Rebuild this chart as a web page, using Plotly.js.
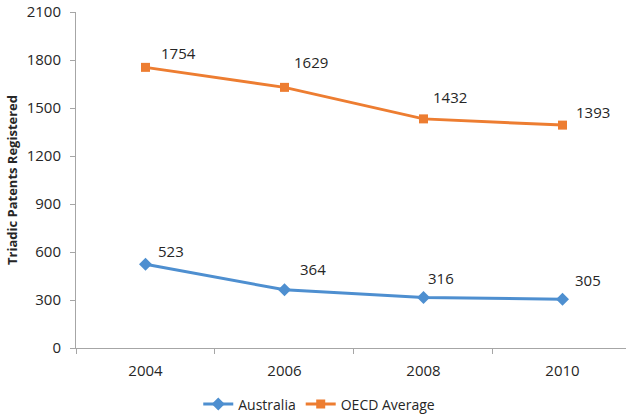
<!DOCTYPE html>
<html>
<head>
<meta charset="utf-8">
<script src="https://cdn.plot.ly/plotly-3.0.1.min.js"></script>
<style>
  html, body { margin: 0; padding: 0; background: #ffffff; }
  #chart { width: 626px; height: 417px; }
</style>
</head>
<body>
<div id="chart"></div>
<script>
// Triadic patent families registered, Australia vs OECD average
const years = ['2004', '2006', '2008', '2010'];
const australia = [523, 364, 316, 305];
const oecdAverage = [1754, 1629, 1432, 1393];
const yTicks = [0, 300, 600, 900, 1200, 1500, 1800, 2100];

const blue = '#4E8FD0';
const orange = '#ED7D31';
const textColor = '#262626';
const axisColor = '#A6A6A6';
const fontFamily = '"Open Sans", "Liberation Sans", sans-serif';

// label offsets (px) from each marker, up-and-right
const oecdShift = [[33, 14], [27, 25], [27, 22], [31, 13]];
const ausShift = [[25, 13], [29, 21], [18, 19], [26, 19]];

const traces = [
  {
    x: years, y: australia, name: 'Australia', type: 'scatter', mode: 'lines+markers',
    line: { color: blue, width: 3 },
    marker: { symbol: 'diamond', size: 10, color: blue }
  },
  {
    x: years, y: oecdAverage, name: 'OECD Average', type: 'scatter', mode: 'lines+markers',
    line: { color: orange, width: 3 },
    marker: { symbol: 'square', size: 9, color: orange }
  }
];

// value labels; category axes take the serial index of each category
function valueLabels(values, shifts) {
  return values.map((v, i) => ({
    x: i, y: v, xref: 'x', yref: 'y',
    text: String(v), showarrow: false,
    xshift: shifts[i][0], yshift: shifts[i][1],
    font: { family: fontFamily, size: 15, color: textColor }
  }));
}

const layout = {
  width: 626, height: 417,
  margin: { l: 76, r: 0, t: 12, b: 69 },
  paper_bgcolor: '#ffffff', plot_bgcolor: '#ffffff',
  font: { family: fontFamily, size: 14, color: textColor },
  showlegend: true,
  legend: {
    orientation: 'h', xref: 'container', yref: 'container',
    x: 0.51, xanchor: 'center', y: 0.03, yanchor: 'middle',
    font: { family: fontFamily, size: 14, color: textColor },
    itemwidth: 30
  },
  xaxis: {
    type: 'category', range: [-0.5, 3.457],
    showgrid: false, zeroline: false,
    showline: true, linecolor: axisColor, linewidth: 1,
    ticks: 'outside', tickson: 'boundaries', ticklen: 5, tickcolor: axisColor,
    ticklabelstandoff: 9,
    tickfont: { family: fontFamily, size: 15, color: textColor }
  },
  yaxis: {
    range: [0, 2100], tickvals: yTicks,
    showgrid: false, zeroline: false,
    showline: true, linecolor: axisColor, linewidth: 1,
    ticks: 'outside', ticklen: 5, tickcolor: axisColor,
    ticklabelstandoff: 6,
    tickfont: { family: fontFamily, size: 15, color: textColor },
    title: {
      text: '<b>Triadic Patents Registered</b>',
      font: { family: fontFamily, size: 13, color: textColor },
      standoff: 6
    }
  },
  annotations: valueLabels(oecdAverage, oecdShift).concat(valueLabels(australia, ausShift))
};

Plotly.newPlot('chart', traces, layout, { displayModeBar: false, staticPlot: true });
</script>
</body>
</html>
